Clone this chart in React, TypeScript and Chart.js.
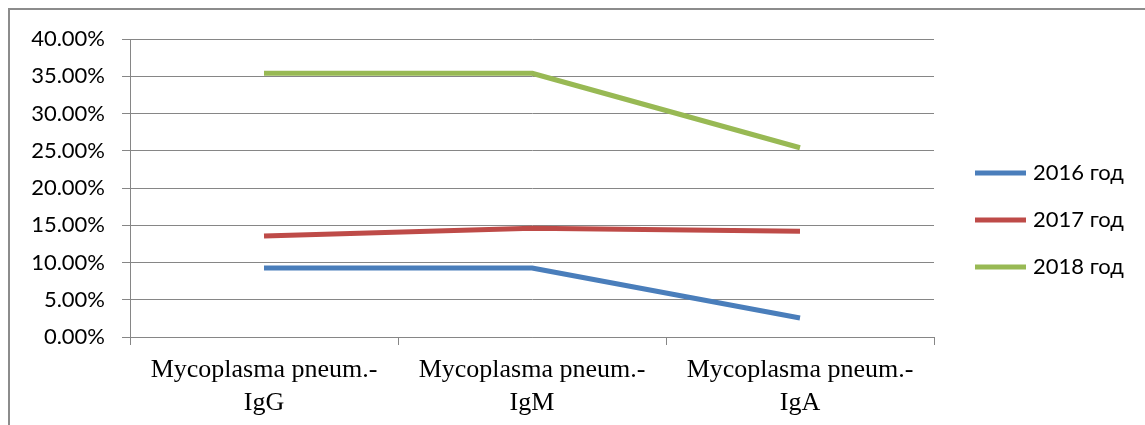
import React, { useEffect, useRef } from "react";
import { Chart, registerables } from "chart.js";

Chart.register(...registerables);

const categories: string[][] = [
  ["Mycoplasma pneum.-", "IgG"],
  ["Mycoplasma pneum.-", "IgM"],
  ["Mycoplasma pneum.-", "IgA"],
];
const seriesNames = ["2016 год", "2017 год", "2018 год"];
const values2016 = [9.26, 9.26, 2.55];
const values2017 = [13.56, 14.6, 14.2];
const values2018 = [35.4, 35.4, 25.4];
const seriesColors = ["#4A7EBB", "#BE4B48", "#98B954"];
const yMin = 0;
const yMax = 40;
const yStep = 5;

const legendPlugin = {
  id: "customLegend",
  afterDraw(chart: any) {
    const ctx = chart.ctx;
    const ds = chart.data.datasets;
    ctx.save();
    ds.forEach((d: any, i: number) => {
      const y = 173 + i * 47;
      ctx.strokeStyle = d.borderColor;
      ctx.lineWidth = 5;
      ctx.lineCap = "butt";
      ctx.beginPath();
      ctx.moveTo(975, y);
      ctx.lineTo(1026, y);
      ctx.stroke();
      ctx.fillStyle = "#000";
      ctx.font = "22px Lato";
      ctx.textBaseline = "middle";
      ctx.textAlign = "left";
      ctx.fillText(d.label, 1033, y);
    });
    ctx.restore();
  },
};

export default function App() {
  const ref = useRef<HTMLCanvasElement | null>(null);
  useEffect(() => {
    if (!ref.current) return;
    const seriesValues = [values2016, values2017, values2018];
    const chart = new Chart(ref.current, {
      type: "line",
      data: {
        labels: categories,
        datasets: seriesNames.map((n, i) => ({
          label: n,
          data: seriesValues[i],
          borderColor: seriesColors[i],
          backgroundColor: seriesColors[i],
          borderWidth: 5,
          pointRadius: 0,
          tension: 0,
          borderCapStyle: "butt",
          borderJoinStyle: "round",
        })),
      },
      options: {
        animation: false,
        responsive: false,
        maintainAspectRatio: false,
        layout: { padding: { left: 8, right: 211, top: 39, bottom: 0 } },
        plugins: { legend: { display: false }, tooltip: { enabled: false } },
        scales: {
          x: {
            offset: true,
            grid: {
              offset: true,
              drawOnChartArea: false,
              drawTicks: true,
              tickLength: 8,
              color: "#868686",
            },
            border: { display: true, color: "#868686", width: 1 },
            ticks: {
              color: "#000",
              font: { family: "'Liberation Serif', serif", size: 26, lineHeight: 1.25 },
              padding: 9,
              maxRotation: 0,
              autoSkip: false,
            },
            afterFit: (s: any) => {
              s.height = 88;
            },
          },
          y: {
            min: yMin,
            max: yMax,
            ticks: {
              stepSize: yStep,
              color: "#000",
              font: { family: "Lato", size: 22 },
              padding: 17,
              callback: (v: any) => Number(v).toFixed(2) + "%",
            },
            grid: { color: "#868686", lineWidth: 1, tickLength: 8 },
            border: { display: true, color: "#868686", width: 1 },
            afterFit: (s: any) => {
              s.width = 122;
            },
          },
        },
      },
      plugins: [legendPlugin],
    });
    return () => chart.destroy();
  }, []);
  return (
    <div style={{ position: "fixed", left: 0, top: 0, width: 1145, height: 425, background: "#fff" }}>
      <canvas ref={ref} width={1145} height={425} style={{ position: "absolute", left: 0, top: 0 }} />
      <div
        style={{
          position: "absolute",
          left: 8,
          top: 8,
          width: 1145 - 8,
          height: 425 - 8,
          borderTop: "2px solid #8c8c8c",
          borderLeft: "2px solid #8c8c8c",
          pointerEvents: "none",
        }}
      />
    </div>
  );
}
